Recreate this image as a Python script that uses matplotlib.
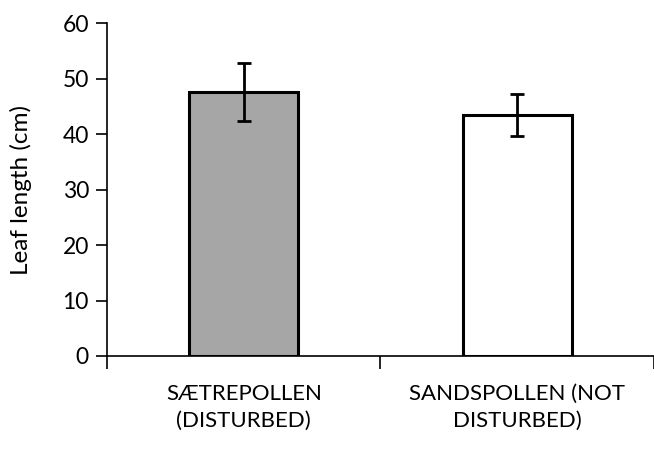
import matplotlib
matplotlib.use('Agg')
import matplotlib.pyplot as plt

# Data
sites = ['SÆTREPOLLEN\n(DISTURBED)', 'SANDSPOLLEN (NOT\nDISTURBED)']
leaf_length = [47.6, 43.4]
errors = [5.2, 3.8]
bar_colors = ['#a6a6a6', '#ffffff']

plt.rcParams['font.family'] = ['Lato', 'DejaVu Sans']

fig = plt.figure(figsize=(6.54, 4.55), dpi=100)
ax = fig.add_axes([0.1636, 0.2176, 0.8364, 0.7312])

x = range(len(sites))
ax.bar(x, leaf_length, width=0.4, color=bar_colors, edgecolor='black', linewidth=2.2,
       yerr=errors, capsize=5, error_kw={'elinewidth': 2, 'capthick': 2, 'ecolor': 'black'})

ax.set_xlim(-0.5, 1.5)
ax.set_ylim(0, 60)
ax.set_yticks(range(0, 61, 10))
ax.set_xticks([-0.5, 0.5, 1.5])
ax.set_xticklabels([])
ax.set_xticks(list(x), minor=True)
ax.set_xticklabels(sites, minor=True, fontsize=16, linespacing=1.45)
ax.tick_params(axis='x', which='minor', length=0, pad=20)
ax.tick_params(axis='x', which='major', direction='out', length=9, width=1.2)
ax.tick_params(axis='y', direction='out', length=8, width=1.2, labelsize=16.5, pad=5)

for side in ['top', 'right']:
    ax.spines[side].set_visible(False)
ax.spines['left'].set_linewidth(1.2)
ax.spines['bottom'].set_linewidth(1.2)

ax.set_ylabel('Leaf length (cm)', fontsize=17.5)
ax.yaxis.set_label_coords(-0.137, 0.5)

fig.savefig('out.png', dpi=100)
